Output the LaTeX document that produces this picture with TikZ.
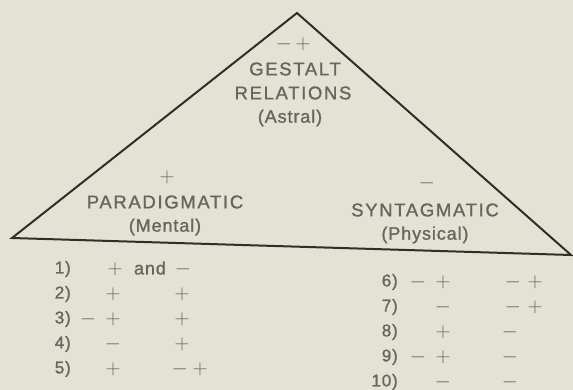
\documentclass[tikz,border=0pt]{standalone}
\usepackage{fontspec}
\setmainfont{Liberation Sans}
\definecolor{paper}{HTML}{E3E2D4}
\definecolor{ink}{HTML}{66665E}
\definecolor{edge}{HTML}{2E2E2A}
\begin{document}
\begin{tikzpicture}[x=1pt,y=-1pt,
    lbl/.style={text=ink,font=\fontsize{18.5}{18.5}\selectfont\addfontfeatures{LetterSpace=9,FakeBold=1.2},inner sep=0pt},
    sub/.style={text=ink,font=\fontsize{18}{18}\selectfont\addfontfeatures{LetterSpace=5,FakeBold=1.2},inner sep=0pt},
    num/.style={text=ink,font=\fontsize{17}{17}\selectfont\addfontfeatures{LetterSpace=5,FakeBold=1.2},anchor=east,inner sep=0pt},
    sgn/.style={text=ink,font=\fontsize{20}{20}\selectfont,inner sep=0pt}]
    \fill[paper] (0,0) rectangle (573,390);
    \useasboundingbox (0,0) rectangle (573,390);
    % triangle
    \coordinate (apex) at (297,13);
    \coordinate (left) at (12,238);
    \coordinate (right) at (571,255);
    \draw[edge,line width=2pt] (apex)--(left)--(right)--cycle;
    % corners of the triangle
    \node[sgn] (tm) at (284,44) {$-$};
    \node[sgn] (tp) at (303,44) {$+$};
    \node[lbl] (gestalt) at (295,69) {GESTALT};
    \node[lbl] (relations) at (293,93) {RELATIONS};
    \node[sub] (astral) at (290,118) {(Astral)};
    \node[sgn] (pp) at (167,177) {$+$};
    \node[lbl] (para) at (165,202) {PARADIGMATIC};
    \node[sub] (mental) at (165,227) {(Mental)};
    \node[sgn] (sm) at (427,183) {$-$};
    \node[lbl] (synt) at (425,210) {SYNTAGMATIC};
    \node[sub] (physical) at (425,235) {(Physical)};
    % left list
    \node[num] (1) at (71,269) {1)};
    \node[sgn] (1a) at (115,269) {$+$};
    \node[sub] (1and) at (150,268) {and};
    \node[sgn] (1b) at (183,269) {$-$};
    \node[num] (2) at (71,294) {2)};
    \node[sgn] (2a) at (113,294) {$+$};
    \node[sgn] (2b) at (182,294) {$+$};
    \node[num] (3) at (71,319) {3)};
    \node[sgn] (3m) at (88,319) {$-$};
    \node[sgn] (3a) at (113,319) {$+$};
    \node[sgn] (3b) at (182,319) {$+$};
    \node[num] (4) at (71,344) {4)};
    \node[sgn] (4a) at (113,344) {$-$};
    \node[sgn] (4b) at (182,344) {$+$};
    \node[num] (5) at (71,369) {5)};
    \node[sgn] (5a) at (113,369) {$+$};
    \node[sgn] (5m) at (180,369) {$-$};
    \node[sgn] (5b) at (200,369) {$+$};
    % right list
    \node[num] (6) at (398,282) {6)};
    \node[sgn] (6m) at (418,282) {$-$};
    \node[sgn] (6a) at (443,282) {$+$};
    \node[sgn] (6n) at (513,282) {$-$};
    \node[sgn] (6b) at (535,282) {$+$};
    \node[num] (7) at (398,307) {7)};
    \node[sgn] (7a) at (443,307) {$-$};
    \node[sgn] (7n) at (513,307) {$-$};
    \node[sgn] (7b) at (535,307) {$+$};
    \node[num] (8) at (398,332) {8)};
    \node[sgn] (8a) at (443,332) {$+$};
    \node[sgn] (8b) at (510,332) {$-$};
    \node[num] (9) at (398,357) {9)};
    \node[sgn] (9m) at (418,357) {$-$};
    \node[sgn] (9a) at (443,357) {$+$};
    \node[sgn] (9b) at (510,357) {$-$};
    \node[num] (10) at (398,382) {10)};
    \node[sgn] (10a) at (443,382) {$-$};
    \node[sgn] (10b) at (510,382) {$-$};
\end{tikzpicture}
\end{document}
